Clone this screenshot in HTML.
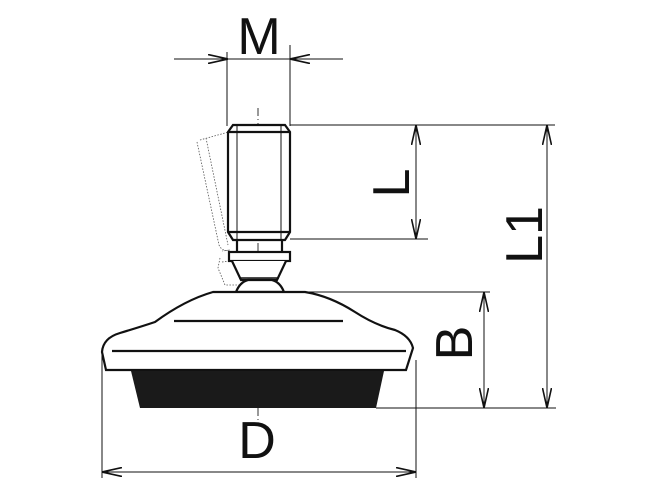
<!DOCTYPE html>
<html><head><style>html,body{margin:0;padding:0;background:#fff}svg{display:block}</style></head>
<body>
<svg width="650" height="500" viewBox="0 0 650 500" xmlns="http://www.w3.org/2000/svg">
<defs>
<marker id="a" viewBox="0 0 20 10" refX="20" refY="5" markerWidth="20" markerHeight="10" markerUnits="userSpaceOnUse" orient="auto-start-reverse">
<path d="M0,0.5 L20,5 L0,9.5" fill="none" stroke="#111" stroke-width="1.6"/>
</marker>
</defs>
<g stroke="#111" stroke-width="1" fill="none">
<line x1="174" y1="59" x2="228" y2="59" marker-end="url(#a)"/>
<line x1="343" y1="59" x2="290" y2="59" marker-end="url(#a)"/>
<line x1="228" y1="59" x2="290" y2="59"/>
<line x1="227" y1="52" x2="227" y2="126"/>
<line x1="290" y1="45" x2="290" y2="126"/>
<line x1="290" y1="125" x2="555" y2="125"/>
<line x1="290" y1="239" x2="428" y2="239"/>
<line x1="416" y1="125" x2="416" y2="239" marker-start="url(#a)" marker-end="url(#a)"/>
<line x1="547" y1="125" x2="547" y2="408" marker-start="url(#a)" marker-end="url(#a)"/>
<line x1="280" y1="292" x2="490" y2="292"/>
<line x1="376" y1="408" x2="556" y2="408"/>
<line x1="484" y1="292" x2="484" y2="408" marker-start="url(#a)" marker-end="url(#a)"/>
<line x1="102" y1="355" x2="102" y2="478"/>
<line x1="416" y1="360" x2="416" y2="478"/>
<line x1="102" y1="472" x2="416" y2="472" marker-start="url(#a)" marker-end="url(#a)"/>
</g>
<line x1="258" y1="108" x2="258" y2="420" stroke="#333" stroke-width="1" stroke-dasharray="8,3,1,3"/>
<g stroke="#555" stroke-width="0.8" fill="none" stroke-dasharray="1.5,1.5">
<path d="M200,140 L250,126 M197,142 L219,245 Q222,252 230,250 L222,251 M206,138 L228,245 M248,126 L270,230 L272,238 M254,124 L278,230"/>
<path d="M220,258 L218,268 L225,285 L240,285 M222,262 L278,255 L270,282"/>
</g>
<g stroke="#111" stroke-width="2.2" fill="#fff">
<path d="M233,125 L285,125 L290,132 L290,232 L285,240 L233,240 L228,232 L228,132 Z"/>
<line x1="228" y1="132" x2="290" y2="132"/>
<line x1="228" y1="232" x2="290" y2="232"/>
<path d="M237,240 L237,252 M282,240 L282,252" />
<rect x="229" y="252" width="61" height="9"/>
<path d="M232,261 L241,280 L277,280 L286,261"/>
<path d="M236,292 Q240,282 248,280 L272,280 Q280,282 284,292 Z"/>
</g>
<line x1="237" y1="125" x2="237" y2="240" stroke="#111" stroke-width="1"/>
<line x1="281" y1="125" x2="281" y2="240" stroke="#111" stroke-width="1"/>
<line x1="239" y1="278" x2="279" y2="278" stroke="#111" stroke-width="1.5"/>
<path d="M213,292 L305,292 Q330,296 355,312 Q375,325 395,330 Q410,336 413,348 L406,370 L106,370 L102,352 Q103,338 120,333 Q140,327 155,322 Q185,300 213,292 Z" fill="#fff" stroke="#111" stroke-width="2.2"/>
<line x1="174" y1="321" x2="343" y2="321" stroke="#111" stroke-width="2.2"/>
<line x1="112" y1="351" x2="406" y2="351" stroke="#111" stroke-width="2.2"/>
<path d="M131,371 L384,371 L376,408 L140,408 Z" fill="#1a1a1a"/>
<g font-family="Liberation Sans, sans-serif" font-size="52" fill="#111">
<text x="259" y="54" text-anchor="middle">M</text>
<text x="257" y="458" text-anchor="middle">D</text>
<text transform="translate(409,183) rotate(-90)" text-anchor="middle">L</text>
<text transform="translate(542,235) rotate(-90)" text-anchor="middle">L1</text>
<text transform="translate(472,343) rotate(-90)" text-anchor="middle">B</text>
</g>
</svg>
</body></html>
